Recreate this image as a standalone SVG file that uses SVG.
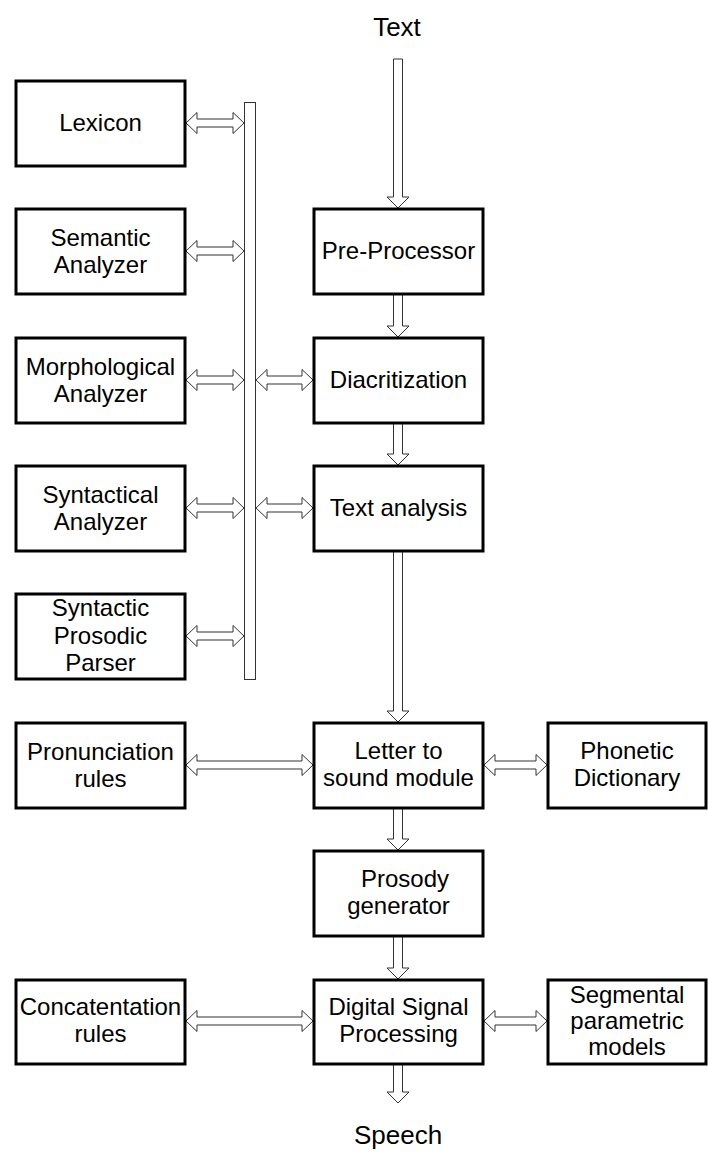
<svg xmlns="http://www.w3.org/2000/svg" width="708" height="1163" viewBox="0 0 708 1163">
<style>
.box{fill:#fff;stroke:#000;stroke-width:3}
.ar{fill:#fff;stroke:#333;stroke-width:1}
.t{font-family:"Liberation Sans",Arial,sans-serif;font-size:24px;fill:#000;text-anchor:middle}
.big{font-size:26px}
</style>
<rect width="708" height="1163" fill="#fff"/>
<g id="connectors">
<rect id="bus" class="ar" x="244.5" y="102.5" width="11" height="577"/>
<polygon class="ar" points="186,123 197,112.5 197,119 233,119 233,112.5 244,123 233,133.5 233,127 197,127 197,133.5"/>
<polygon class="ar" points="186,251 197,240.5 197,247 233,247 233,240.5 244,251 233,261.5 233,255 197,255 197,261.5"/>
<polygon class="ar" points="186,380 197,369.5 197,376 233,376 233,369.5 244,380 233,390.5 233,384 197,384 197,390.5"/>
<polygon class="ar" points="186,508 197,497.5 197,504 233,504 233,497.5 244,508 233,518.5 233,512 197,512 197,518.5"/>
<polygon class="ar" points="186,636 197,625.5 197,632 233,632 233,625.5 244,636 233,646.5 233,640 197,640 197,646.5"/>
<polygon class="ar" points="256,380 267,369.5 267,376 302,376 302,369.5 313,380 302,390.5 302,384 267,384 267,390.5"/>
<polygon class="ar" points="256,508 267,497.5 267,504 302,504 302,497.5 313,508 302,518.5 302,512 267,512 267,518.5"/>
<polygon class="ar" points="186,765 197,754.5 197,761 302,761 302,754.5 313,765 302,775.5 302,769 197,769 197,775.5"/>
<polygon class="ar" points="484,765 495,754.5 495,761 536,761 536,754.5 547,765 536,775.5 536,769 495,769 495,775.5"/>
<polygon class="ar" points="186,1021 197,1010.5 197,1017 302,1017 302,1010.5 313,1021 302,1031.5 302,1025 197,1025 197,1031.5"/>
<polygon class="ar" points="484,1021 495,1010.5 495,1017 536,1017 536,1010.5 547,1021 536,1031.5 536,1025 495,1025 495,1031.5"/>
<polygon class="ar" points="393.5,59 402.5,59 402.5,197 409,197 398,208 387,197 393.5,197"/>
<polygon class="ar" points="393.5,294 402.5,294 402.5,326 409,326 398,337 387,326 393.5,326"/>
<polygon class="ar" points="393.5,423 402.5,423 402.5,454 409,454 398,465 387,454 393.5,454"/>
<polygon class="ar" points="393.5,551 402.5,551 402.5,711 409,711 398,722 387,711 393.5,711"/>
<polygon class="ar" points="393.5,808 402.5,808 402.5,839 409,839 398,850 387,839 393.5,839"/>
<polygon class="ar" points="393.5,936 402.5,936 402.5,968 409,968 398,979 387,968 393.5,968"/>
<polygon class="ar" points="393.5,1064 402.5,1064 402.5,1092 409,1092 398,1103 387,1092 393.5,1092"/>
</g>
<text id="text-in" class="t big" x="397" y="36">Text</text>
<text id="speech-out" class="t big" x="398" y="1144">Speech</text>
<g id="lexicon"><rect class="box" x="16" y="81" width="169" height="85"/><text class="t" x="100.5" y="131">Lexicon</text></g>
<g id="semantic"><rect class="box" x="16" y="209" width="169" height="85"/><text class="t" x="100.5" y="246">Semantic</text><text class="t" x="100.5" y="273">Analyzer</text></g>
<g id="morphological"><rect class="box" x="16" y="338" width="169" height="85"/><text class="t" x="100.5" y="375">Morphological</text><text class="t" x="100.5" y="402">Analyzer</text></g>
<g id="syntactical"><rect class="box" x="16" y="466" width="169" height="85"/><text class="t" x="100.5" y="503">Syntactical</text><text class="t" x="100.5" y="530">Analyzer</text></g>
<g id="parser"><rect class="box" x="16" y="594" width="169" height="85"/><text class="t" x="100.5" y="616">Syntactic</text><text class="t" x="100.5" y="644">Prosodic</text><text class="t" x="100.5" y="671">Parser</text></g>
<g id="preprocessor"><rect class="box" x="314" y="209" width="169" height="85"/><text class="t" x="398.5" y="259">Pre-Processor</text></g>
<g id="diacritization"><rect class="box" x="314" y="338" width="169" height="85"/><text class="t" x="398.5" y="388">Diacritization</text></g>
<g id="textanalysis"><rect class="box" x="314" y="466" width="169" height="85"/><text class="t" x="398.5" y="516">Text analysis</text></g>
<g id="pronunciation"><rect class="box" x="16" y="723" width="169" height="85"/><text class="t" x="100.5" y="760">Pronunciation</text><text class="t" x="100.5" y="787">rules</text></g>
<g id="lts"><rect class="box" x="314" y="723" width="169" height="85"/><text class="t" x="398.5" y="759">Letter to</text><text class="t" x="398.5" y="786">sound module</text></g>
<g id="phonetic"><rect class="box" x="548" y="723" width="158" height="85"/><text class="t" x="627" y="759">Phonetic</text><text class="t" x="627" y="786">Dictionary</text></g>
<g id="prosody"><rect class="box" x="314" y="851" width="169" height="85"/><text class="t" x="405" y="887">Prosody</text><text class="t" x="398.5" y="914">generator</text></g>
<g id="concatenation"><rect class="box" x="16" y="980" width="169" height="84"/><text class="t" x="100.5" y="1015">Concatentation</text><text class="t" x="100.5" y="1042">rules</text></g>
<g id="dsp"><rect class="box" x="314" y="980" width="169" height="84"/><text class="t" x="398.5" y="1015">Digital Signal</text><text class="t" x="398.5" y="1042">Processing</text></g>
<g id="segmental"><rect class="box" x="548" y="980" width="158" height="84"/><text class="t" x="627" y="1003">Segmental</text><text class="t" x="627" y="1029">parametric</text><text class="t" x="627" y="1055">models</text></g>
</svg>
